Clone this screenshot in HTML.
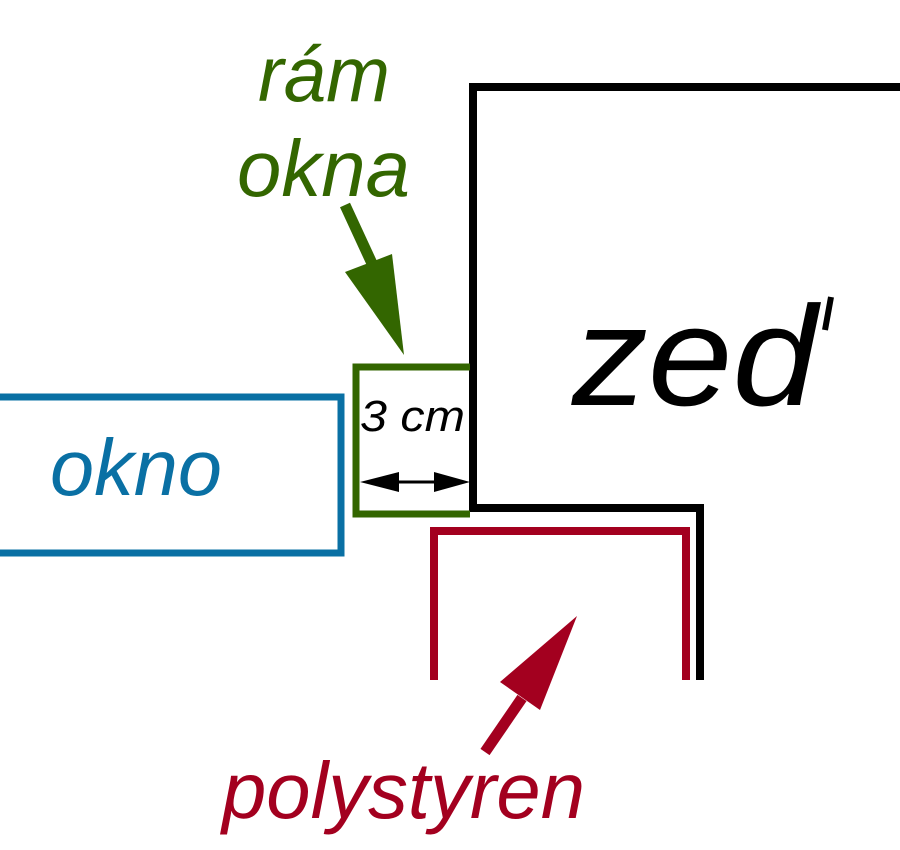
<!DOCTYPE html>
<html><head><style>
html,body{margin:0;padding:0;background:#fff;width:900px;height:850px;overflow:hidden}
text{font-family:"Liberation Sans",sans-serif;font-style:italic}
</style></head><body>
<svg width="900" height="850" viewBox="0 0 900 850">
<polyline points="900,87 473,87 473,508 700,508 700,680" fill="none" stroke="#000" stroke-width="8"/>
<polyline points="470,367 356,367 356,514 470,514" fill="none" stroke="#336600" stroke-width="7"/>
<polyline points="-5,397 341,397 341,553 -5,553" fill="none" stroke="#0a70a4" stroke-width="7"/>
<polyline points="434,680 434,531 686,531 686,680" fill="none" stroke="#a3001f" stroke-width="8"/>
<line x1="345" y1="205" x2="375" y2="270" stroke="#336600" stroke-width="11"/>
<polygon points="345,272 392,254 404,355" fill="#336600"/>
<line x1="485" y1="752" x2="522" y2="698" stroke="#a3001f" stroke-width="11"/>
<polygon points="577,616 500,682 540,710" fill="#a3001f"/>
<line x1="372" y1="482" x2="458" y2="482" stroke="#000" stroke-width="3"/>
<polygon points="360,482 399,472 399,492" fill="#000"/>
<polygon points="470,482 434,472 434,492" fill="#000"/>
<text x="258" y="101" font-size="78" fill="#336600" textLength="132" lengthAdjust="spacingAndGlyphs">rám</text>
<text x="237" y="196" font-size="80" fill="#336600" textLength="173" lengthAdjust="spacingAndGlyphs">okna</text>
<text x="572" y="405" font-size="142" fill="#000" textLength="245" lengthAdjust="spacingAndGlyphs">zed</text>
<line x1="831" y1="297" x2="825" y2="330" stroke="#000" stroke-width="6"/>
<text x="50" y="495" font-size="80" fill="#0a70a4" textLength="172" lengthAdjust="spacingAndGlyphs">okno</text>
<text x="222" y="818" font-size="80" fill="#a3001f" textLength="363" lengthAdjust="spacingAndGlyphs">polystyren</text>
<text x="360" y="431" font-size="44" fill="#000" textLength="105" lengthAdjust="spacingAndGlyphs">3 cm</text>
</svg>
</body></html>
